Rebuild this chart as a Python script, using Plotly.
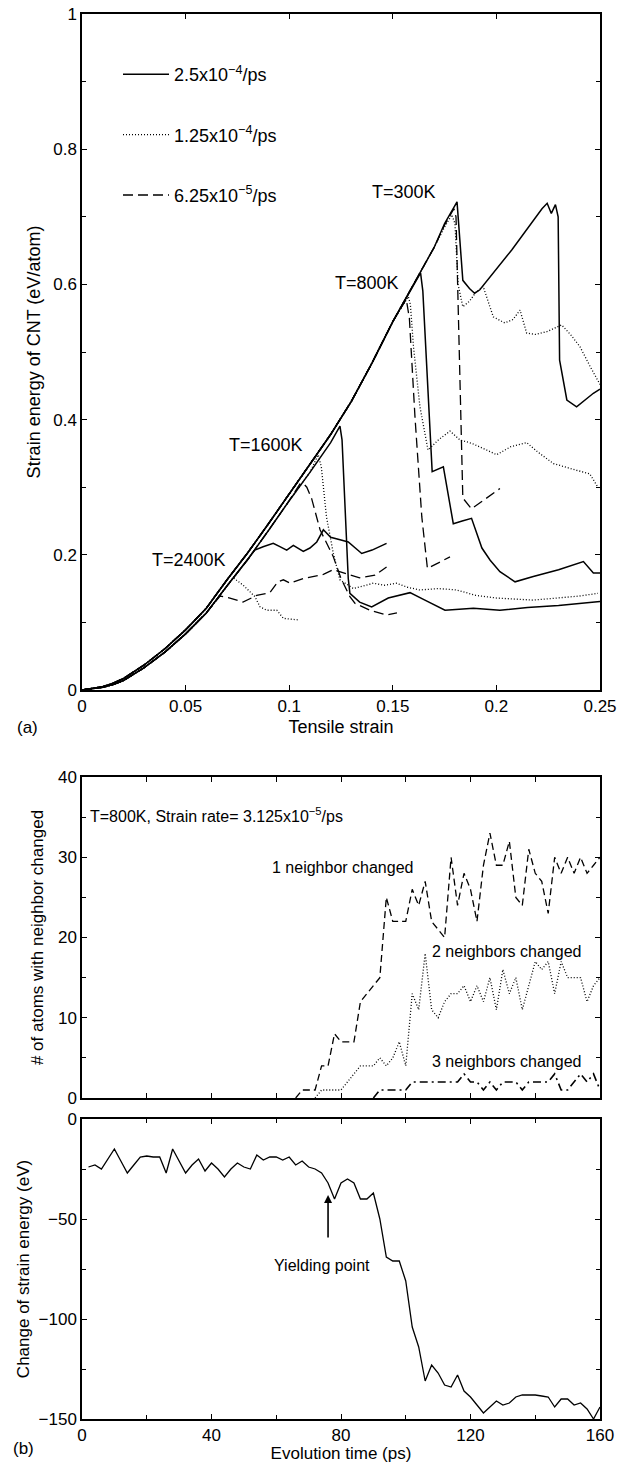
import plotly.graph_objects as go

W, H = 628, 1463
FONT = "Liberation Sans, Arial, sans-serif"

# ---------------- Panel (a) data ----------------
loading_strain = [0, 0.005, 0.01, 0.015, 0.02, 0.03, 0.04, 0.05, 0.06, 0.07, 0.08, 0.09,
                  0.10, 0.11, 0.12, 0.13, 0.14, 0.15, 0.16, 0.17]
loading_energy_cold = [0, 0.002, 0.005, 0.010, 0.017, 0.037, 0.061, 0.089, 0.121, 0.163, 0.203, 0.246,
                       0.290, 0.333, 0.378, 0.427, 0.484, 0.545, 0.600, 0.655]
loading_energy_hot = [0, 0.002, 0.004, 0.008, 0.014, 0.033, 0.056, 0.083, 0.114, 0.154, 0.193, 0.236,
                      0.280, 0.322, 0.366, 0.414, 0.470, 0.530, 0.585, 0.640]

# T=300K
t300_solid_cut = 0.17
t300_solid_s = [0.175, 0.181, 0.1838, 0.187, 0.1895, 0.192, 0.2074, 0.222, 0.2245, 0.2265, 0.2285,
                0.2298, 0.2305, 0.234, 0.2387, 0.2468, 0.25]
t300_solid_e = [0.69, 0.722, 0.606, 0.594, 0.587, 0.592, 0.651, 0.712, 0.72, 0.705, 0.718,
                0.70, 0.488, 0.429, 0.419, 0.439, 0.445]
t300_dot_cut = 0.17
t300_dot_s = [0.175, 0.1785, 0.180, 0.1815, 0.1838, 0.187, 0.19, 0.1936, 0.1985, 0.204, 0.208,
              0.2114, 0.2146, 0.219, 0.2243, 0.228, 0.2315, 0.236, 0.2403, 0.245, 0.25]
t300_dot_e = [0.685, 0.703, 0.69, 0.60, 0.567, 0.575, 0.588, 0.597, 0.552, 0.543, 0.548,
              0.562, 0.528, 0.526, 0.530, 0.535, 0.540, 0.525, 0.508, 0.48, 0.452]
t300_dash_cut = 0.17
t300_dash_s = [0.175, 0.1795, 0.1805, 0.182, 0.1838, 0.188, 0.195, 0.2017]
t300_dash_e = [0.688, 0.712, 0.70, 0.50, 0.284, 0.268, 0.283, 0.298]

# T=800K
t800_solid_cut = 0.16
t800_solid_s = [0.1634, 0.1645, 0.169, 0.1744, 0.1792, 0.1835, 0.188, 0.193, 0.197, 0.2017,
                0.209, 0.2178, 0.23, 0.242, 0.2468, 0.25]
t800_solid_e = [0.617, 0.59, 0.323, 0.330, 0.246, 0.250, 0.254, 0.210, 0.192, 0.175,
                0.160, 0.168, 0.178, 0.19, 0.173, 0.173]
t800_dot_cut = 0.15
t800_dot_s = [0.1575, 0.1585, 0.160, 0.1631, 0.1655, 0.167, 0.172, 0.1776, 0.1824, 0.188, 0.1953,
              0.2001, 0.207, 0.2146, 0.22, 0.2275, 0.2387, 0.245, 0.249]
t800_dot_e = [0.582, 0.57, 0.507, 0.419, 0.38, 0.355, 0.37, 0.383, 0.370, 0.365, 0.355,
              0.348, 0.36, 0.366, 0.352, 0.335, 0.325, 0.32, 0.30]
t800_dash_cut = 0.15
t800_dash_s = [0.1565, 0.158, 0.1607, 0.164, 0.1667, 0.172, 0.1776]
t800_dash_e = [0.578, 0.55, 0.404, 0.256, 0.18, 0.188, 0.197]

# T=1600K
t1600_solid_cut = 0.12
t1600_solid_s = [0.1245, 0.1255, 0.1285, 0.1293, 0.134, 0.1398, 0.1478, 0.1583, 0.1655, 0.1752,
                 0.1889, 0.2017, 0.215, 0.23, 0.25]
t1600_solid_e = [0.3905, 0.37, 0.165, 0.143, 0.13, 0.123, 0.136, 0.144, 0.133, 0.118,
                 0.121, 0.118, 0.122, 0.125, 0.131]
t1600_dot_cut = 0.11
t1600_dot_s = [0.114, 0.1155, 0.118, 0.1213, 0.1245, 0.131, 0.136, 0.1406, 0.146, 0.1518, 0.157,
               0.163, 0.172, 0.1808, 0.19, 0.2001, 0.2178, 0.2307, 0.24, 0.249]
t1600_dot_e = [0.348, 0.33, 0.256, 0.202, 0.163, 0.150, 0.154, 0.158, 0.155, 0.158, 0.152,
               0.148, 0.150, 0.148, 0.140, 0.136, 0.133, 0.136, 0.139, 0.143]
t1600_dash_cut = 0.10
t1600_dash_s = [0.1052, 0.107, 0.1085, 0.1108, 0.1149, 0.1213, 0.125, 0.1293, 0.1318, 0.139,
                0.147, 0.152]
t1600_dash_e = [0.305, 0.305, 0.30, 0.2835, 0.237, 0.197, 0.165, 0.138, 0.128, 0.118,
                0.111, 0.114]

# T=2400K
t2400_solid_cut = 0.08
t2400_solid_s = [0.0834, 0.0874, 0.0923, 0.0955, 0.0988, 0.102, 0.1068, 0.11, 0.1133, 0.1165,
                 0.12, 0.125, 0.1285, 0.135, 0.14, 0.147]
t2400_solid_e = [0.207, 0.212, 0.217, 0.212, 0.207, 0.214, 0.205, 0.21, 0.219, 0.237,
                 0.226, 0.222, 0.219, 0.202, 0.207, 0.217]
t2400_dot_cut = 0.07
t2400_dot_s = [0.073, 0.0778, 0.0835, 0.0859, 0.0891, 0.094, 0.0972, 0.1, 0.105]
t2400_dot_e = [0.166, 0.155, 0.138, 0.123, 0.118, 0.118, 0.106, 0.105, 0.1036]
t2400_dash_cut = 0.06
t2400_dash_s = [0.0666, 0.0714, 0.0777, 0.0843, 0.0907, 0.0945, 0.0972, 0.1005, 0.1068, 0.1165,
                0.1213, 0.128, 0.134, 0.1414, 0.147]
t2400_dash_e = [0.139, 0.136, 0.130, 0.140, 0.144, 0.16, 0.163, 0.158, 0.165, 0.171,
                0.178, 0.172, 0.166, 0.170, 0.182]

rate_labels = ["2.5x10<sup>\u22124</sup>/ps", "1.25x10<sup>\u22124</sup>/ps", "6.25x10<sup>\u22125</sup>/ps"]
temp_labels = ["T=300K", "T=800K", "T=1600K", "T=2400K"]
temp_label_strain = [0.139, 0.1211, 0.0698, 0.0328]
temp_label_energy = [0.737, 0.602, 0.362, 0.192]

# ---------------- Panel (b) data ----------------
nb_time1 = [66, 68, 70, 72, 74, 76, 78, 80, 82, 84, 86, 88, 90, 92, 94, 96, 98, 100, 102, 104, 106,
            108, 110, 112, 114, 116, 118, 120, 122, 124, 126, 128, 130, 132, 134, 136, 138, 140,
            142, 144, 146, 148, 150, 152, 154, 156, 158, 160]
nb_one = [0, 1, 1, 1, 4, 4, 8, 7, 7, 7, 12, 13, 14, 15, 25, 22, 22, 22, 26, 24, 27,
          22, 21, 20, 30, 24, 28, 26, 22, 29, 33, 29, 29, 32, 25, 24, 31, 28,
          27, 23, 30, 28, 30, 28, 30, 28, 29, 30]
nb_time2 = [72, 74, 76, 78, 80, 82, 84, 86, 88, 90, 92, 94, 96, 98, 100, 102, 104, 106, 108, 110,
            112, 114, 116, 118, 120, 122, 124, 126, 128, 130, 132, 134, 136, 138, 140, 142, 144,
            146, 148, 150, 152, 154, 156, 158, 160]
nb_two = [0, 1, 1, 1, 1, 2, 3, 4, 4, 4, 5, 4, 5, 7, 4, 13, 11, 18, 11, 10,
          12, 13, 13, 14, 12, 14, 12, 15, 11, 16, 13, 15, 11, 14, 17, 16, 17,
          13, 17, 15, 15, 15, 12, 14, 15]
nb_time3 = [90, 92, 94, 96, 98, 100, 102, 104, 106, 108, 110, 112, 114, 116, 118, 120, 122, 124,
            126, 128, 130, 132, 134, 136, 138, 140, 142, 144, 146, 148, 150, 152, 154, 156, 158, 160]
nb_three = [0, 1, 1, 1, 1, 1, 2, 2, 2, 2, 2, 2, 2, 2, 3, 2, 2, 1,
            2, 1, 2, 2, 2, 1, 2, 2, 2, 2, 3, 1, 1, 2, 3, 2, 3, 1]

se_time = [2, 4, 6, 8, 10, 12, 14, 16, 18, 20, 22, 24, 26, 28, 30, 32, 34, 36, 38, 40, 42, 44, 46,
           48, 50, 52, 54, 56, 58, 60, 62, 64, 66, 68, 70, 72, 74, 76, 78, 80, 82, 84, 86, 88, 90,
           92, 94, 96, 98, 100, 102, 104, 106, 108, 110, 112, 114, 116, 118, 120, 122, 124, 126,
           128, 130, 132, 134, 136, 138, 140, 142, 144, 146, 148, 150, 152, 154, 156, 158, 160]
se_change = [-24, -23, -25, -20, -15, -21, -27, -23, -19, -18.5, -19, -19, -27, -15, -21, -27, -23,
             -20, -26, -22, -25, -29, -25, -22, -24, -25, -18, -20.5, -19, -19, -20.5, -19, -23,
             -21, -24, -25, -27, -32, -40, -32, -30, -32, -40, -40, -37, -50, -69, -71, -71, -81,
             -104, -114, -131, -123, -127, -133, -134, -128, -136, -139, -143, -147, -144, -141,
             -143, -142, -139, -138, -138, -138, -138.5, -139, -144, -140, -140, -143, -142, -145,
             -150, -144]

# ---------------- figure ----------------
fig = go.Figure()

def branch(loading, cut, s, e):
    xs = [v for v in loading_strain if v <= cut] + s
    ys = [loading[i] for i, v in enumerate(loading_strain) if v <= cut] + e
    return xs, ys

styles = {
    "solid": dict(color="black", width=1.5, dash="solid"),
    "dot": dict(color="black", width=1.3, dash="1px,2px"),
    "dash": dict(color="black", width=1.3, dash="10px,5px"),
}
C, Hh = loading_energy_cold, loading_energy_hot
curves = [
    ("solid", 0, C, t300_solid_cut, t300_solid_s, t300_solid_e, True),
    ("dot", 1, C, t300_dot_cut, t300_dot_s, t300_dot_e, True),
    ("dash", 2, C, t300_dash_cut, t300_dash_s, t300_dash_e, True),
    ("solid", 0, C, t800_solid_cut, t800_solid_s, t800_solid_e, False),
    ("dot", 1, C, t800_dot_cut, t800_dot_s, t800_dot_e, False),
    ("dash", 2, C, t800_dash_cut, t800_dash_s, t800_dash_e, False),
    ("solid", 0, Hh, t1600_solid_cut, t1600_solid_s, t1600_solid_e, False),
    ("dot", 1, Hh, t1600_dot_cut, t1600_dot_s, t1600_dot_e, False),
    ("dash", 2, Hh, t1600_dash_cut, t1600_dash_s, t1600_dash_e, False),
    ("solid", 0, Hh, t2400_solid_cut, t2400_solid_s, t2400_solid_e, False),
    ("dot", 1, Hh, t2400_dot_cut, t2400_dot_s, t2400_dot_e, False),
    ("dash", 2, Hh, t2400_dash_cut, t2400_dash_s, t2400_dash_e, False),
]
for sty, ri, load, cut, s, e, leg in curves:
    xs, ys = branch(load, cut, s, e)
    fig.add_trace(go.Scatter(x=xs, y=ys, mode="lines", line=styles[sty], name=rate_labels[ri],
                             legendgroup=f"g{ri}", showlegend=leg, xaxis="x", yaxis="y"))

fig.add_trace(go.Scatter(x=nb_time1, y=nb_one, mode="lines", showlegend=False,
                         line=dict(color="black", width=1.3, dash="7px,4px"), xaxis="x2", yaxis="y2"))
fig.add_trace(go.Scatter(x=nb_time2, y=nb_two, mode="lines", showlegend=False,
                         line=dict(color="black", width=1.3, dash="1px,2px"), xaxis="x2", yaxis="y2"))
fig.add_trace(go.Scatter(x=nb_time3, y=nb_three, mode="lines", showlegend=False,
                         line=dict(color="black", width=1.6, dash="8px,4px,2px,4px"), xaxis="x2", yaxis="y2"))
fig.add_trace(go.Scatter(x=se_time, y=se_change, mode="lines", showlegend=False,
                         line=dict(color="black", width=1.3), xaxis="x3", yaxis="y3"))

def py(p):
    return 1 - p / H

xdom = [82 / W, 600 / W]
axis_common = dict(showline=True, linecolor="black", linewidth=1.5, mirror="allticks", ticks="inside",
                   ticklen=5, tickcolor="black", tickwidth=1, showgrid=False, zeroline=False,
                   tickfont=dict(family=FONT, size=17, color="black"), automargin=False)
minor_common = dict(ticks="inside", ticklen=4, tickcolor="black", tickwidth=1, showgrid=False)

fig.update_layout(
    width=W, height=H, margin=dict(l=0, r=0, t=0, b=0),
    paper_bgcolor="white", plot_bgcolor="white",
    font=dict(family=FONT, size=17, color="black"),
    xaxis=dict(domain=xdom, anchor="y", range=[0, 0.25], dtick=0.05, tick0=0,
               title=dict(text="Tensile strain", standoff=5, font=dict(size=18)), **axis_common),
    yaxis=dict(domain=[py(690), py(14)], anchor="x", range=[0, 1], dtick=0.2, tick0=0,
               minor=dict(dtick=0.1, **minor_common),
               title=dict(text="Strain energy of CNT (eV/atom)", standoff=8, font=dict(size=18)),
               **axis_common),
    xaxis2=dict(domain=xdom, anchor="y2", range=[0, 160], dtick=20, tick0=0, showticklabels=False,
                **axis_common),
    yaxis2=dict(domain=[py(1098), py(777)], anchor="x2", range=[0, 40], dtick=10, tick0=0,
                minor=dict(dtick=5, **minor_common),
                title=dict(text="# of atoms with neighbor changed", standoff=10, font=dict(size=17)),
                **axis_common),
    xaxis3=dict(domain=xdom, anchor="y3", range=[0, 160], dtick=40, tick0=0,
                minor=dict(dtick=20, **minor_common),
                title=dict(text="Evolution time (ps)", standoff=3, font=dict(size=17)), **axis_common),
    yaxis3=dict(domain=[py(1419), py(1119)], anchor="x3", range=[-150, 0], dtick=50, tick0=0,
                minor=dict(dtick=25, **minor_common),
                title=dict(text="Change of strain energy (eV)", standoff=5, font=dict(size=17)),
                **axis_common),
    legend=dict(x=118 / W, y=py(56), xanchor="left", yanchor="top", tracegroupgap=34,
                itemwidth=46, traceorder="grouped", bgcolor="rgba(0,0,0,0)",
                font=dict(family=FONT, size=18)),
)

ann = []
for txt, sx, se in zip(temp_labels, temp_label_strain, temp_label_energy):
    ann.append(dict(x=sx, y=se, xref="x", yref="y", text=txt, showarrow=False, xanchor="left",
                    yanchor="middle", font=dict(family=FONT, size=18)))
ann += [
    dict(x=2, y=35.3, xref="x2", yref="y2", text="T=800K, Strain rate= 3.125x10<sup>\u22125</sup>/ps",
         showarrow=False, xanchor="left", yanchor="middle", font=dict(family=FONT, size=16)),
    dict(x=102.9, y=28.7, xref="x2", yref="y2", text="1 neighbor changed", showarrow=False,
         xanchor="right", yanchor="middle", font=dict(family=FONT, size=16)),
    dict(x=131.2, y=18.2, xref="x2", yref="y2", text="2 neighbors changed", showarrow=False,
         xanchor="center", yanchor="middle", font=dict(family=FONT, size=16)),
    dict(x=131.2, y=4.6, xref="x2", yref="y2", text="3 neighbors changed", showarrow=False,
         xanchor="center", yanchor="middle", font=dict(family=FONT, size=16)),
    dict(x=76, y=-38, ax=76, ay=-60, xref="x3", yref="y3", axref="x3", ayref="y3", text="",
         showarrow=True, arrowhead=2, arrowsize=1, arrowwidth=1.6, arrowcolor="black"),
    dict(x=74, y=-73, xref="x3", yref="y3", text="Yielding point", showarrow=False,
         xanchor="center", yanchor="middle", font=dict(family=FONT, size=16)),
    dict(x=28 / W, y=py(728), xref="paper", yref="paper", text="(a)", showarrow=False,
         xanchor="center", yanchor="middle", font=dict(family=FONT, size=17)),
    dict(x=23 / W, y=py(1448), xref="paper", yref="paper", text="(b)", showarrow=False,
         xanchor="center", yanchor="middle", font=dict(family=FONT, size=17)),
]
fig.update_layout(annotations=ann)

fig.write_html("out.html")
